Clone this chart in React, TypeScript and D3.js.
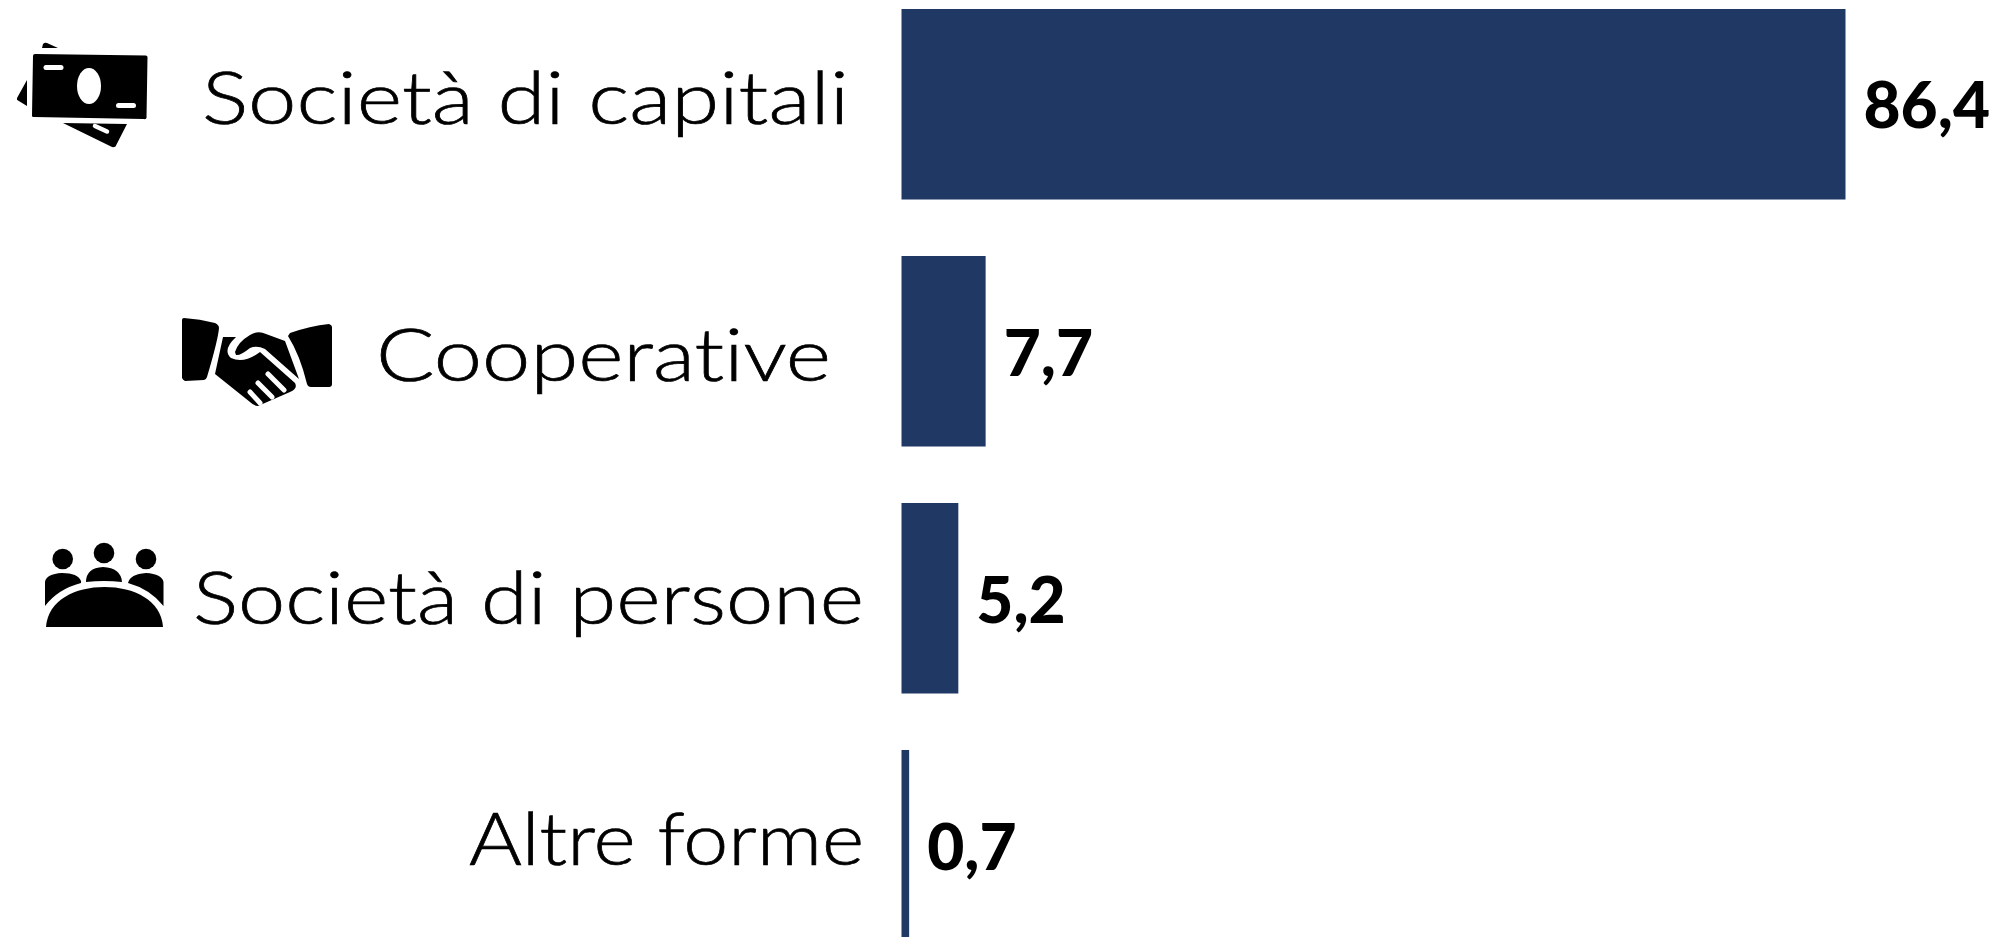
import React from "react";
import * as d3 from "d3";

const categories = ["Società di capitali", "Cooperative", "Società di persone", "Altre forme"];
const values = [86.4, 7.7, 5.2, 0.7];
const valueLabels = ["86,4", "7,7", "5,2", "0,7"];
const icons = ["money", "hands", "people", ""];
const labelLeft = [202, 376, 193, 469];
const labelRight = [849, 831, 864, 864];
const labelBaseline = [124, 381, 624, 865];
const valueBaseline = [128, 376, 623, 870];

const W = 1993, H = 937;
const x = d3.scaleLinear().domain([0, 86.4]).range([901.5, 1845.5]);
const y = d3.scaleBand<number>().domain(d3.range(4)).range([9, 940.5]).paddingInner(0.2287).paddingOuter(0);

function Money() {
  return (
    <g>
      <path d="M43 44 Q45 42 47 43 L58 48 L42 48Z" />
      <path d="M27 80 L17 98 Q16.500 100 18 100.500 L27 106Z" />
      <path d="M63 123 L127 124 L115.500 146.500 Q113 148 111 146.500Z" />
      <path d="M35 54 L146 55.500 Q147.500 56 147.500 57 L146.500 118 Q146 119.500 144 119 L34 117 Q31.500 117 32 115 L33 56 Q33 54 35 54Z" />
      <ellipse cx="89" cy="86" rx="12" ry="18" fill="#fff" />
      <rect x="43.500" y="65" width="20" height="5" rx="2.500" fill="#fff" />
      <rect x="116" y="103" width="20" height="5" rx="2.500" fill="#fff" />
      <path d="M95 126 L107 131.500" stroke="#fff" strokeWidth="4.500" strokeLinecap="round" />
    </g>
  );
}
function Hands() {
  return (
    <g>
      <path d="M184 318 Q200 319 215 323 Q219 325 219 328 Q218 340 207 377 Q206 380 204 380 L185 381 Q183 380 182 378 L182 320 Q182 318 184 318Z" />
      <path d="M290 333 Q310 326 329 324 Q332 325 332 327 L332 384 Q332 387 329 387 L311 387 Q308 387 307 384 Q300 355 288 336Z" />
      <path d="M223 337 L236 337 Q222 350 231 358 Q244 364 260 352 L295 383 Q298 389 290 392 L258 406 Q254 406 250 402 L215 374Z" />
      <path d="M250 392 L260 403 M258 383 L272 397 M268 374 L284 390" stroke="#fff" strokeWidth="5" strokeLinecap="round" fill="none" />
      <path d="M235 352 Q238 342 250 335 Q258 330 266 334 L285 341 L299 379 L265 349 Q257 345 250 348 Q240 356 236 355Z" />
    </g>
  );
}
function People() {
  return (
    <g>
      <circle cx="62.700" cy="559" r="10.300" />
      <circle cx="104" cy="553" r="10.300" />
      <circle cx="146" cy="559" r="10.300" />
      <path d="M45 582 Q46 574 62 573 Q78 573 81 581 L81 583 Q58 589 45 606Z" />
      <path d="M86 582 Q86 568 103 567 Q121 568 122 582 Q104 580 86 582Z" />
      <path d="M128 583 Q130 574 146 573 Q162 574 163.500 582 L163.500 606 Q150 589 128 583Z" />
      <path d="M46 627 C48 600 75 587 104.500 587 C134 587 161 600 163 627Z" />
    </g>
  );
}

export default function App() {
  const font = "Lato, 'Noto Sans', sans-serif";
  return (
    <svg width={W} height={H} viewBox={`0 0 ${W} ${H}`} style={{ position: "absolute", left: 0, top: 0, display: "block", background: "#fff" }}>
      {values.map((v, i) => (
        <rect key={i} x={x(0)} y={y(i)} width={x(v) - x(0)} height={y.bandwidth()} fill="#1f3864" />
      ))}
      {categories.map((c, i) => (
        <text key={c} x={labelLeft[i]} y={labelBaseline[i]} textLength={labelRight[i] - labelLeft[i]} lengthAdjust="spacingAndGlyphs" fontFamily={font} fontWeight={300} fontSize={72} fill="#000" stroke="#000" strokeWidth={0.7} style={{ fontVariantLigatures: "none" }}>{c}</text>
      ))}
      {valueLabels.map((l, i) => (
        <text key={l} x={x(values[i]) + 18} y={valueBaseline[i]} fontFamily={font} fontWeight={900} fontSize={64} fill="#000">{l}</text>
      ))}
      {icons.map((k) => (k === "money" ? <Money key={k} /> : k === "hands" ? <Hands key={k} /> : k === "people" ? <People key={k} /> : null))}
    </svg>
  );
}
